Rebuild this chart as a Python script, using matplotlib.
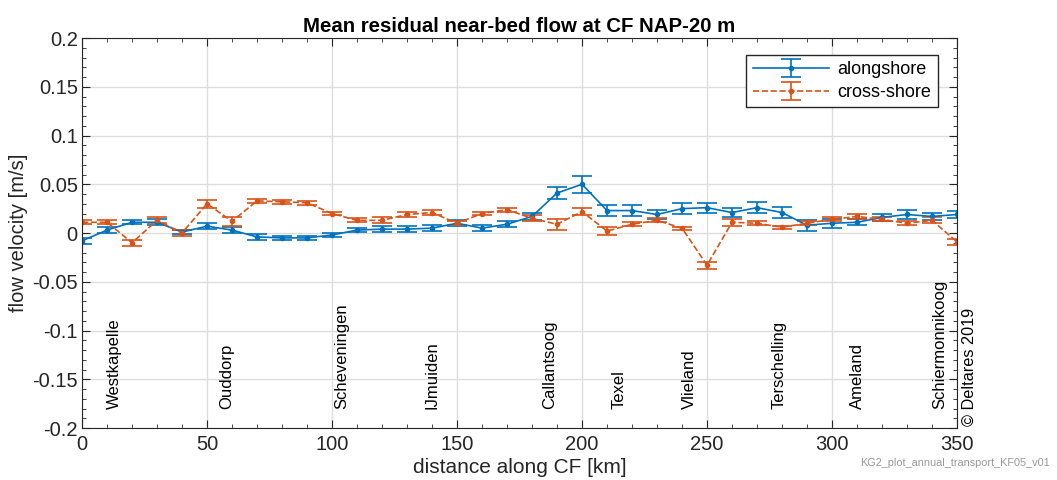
import matplotlib
matplotlib.use("Agg")
import matplotlib.pyplot as plt
from matplotlib.ticker import MultipleLocator

plt.rcParams['font.family'] = ['Liberation Sans', 'DejaVu Sans']

# distance along CF [km]
dist = [0, 10, 20, 30, 40, 50, 60, 70, 80, 90, 100, 110, 120, 130, 140, 150, 160, 170,
        180, 190, 200, 210, 220, 230, 240, 250, 260, 270, 280, 290, 300, 310, 320, 330, 340, 350]

along = [-0.008, 0.003, 0.011, 0.011, 0.001, 0.007, 0.003, -0.004, -0.005, -0.005,
         -0.002, 0.003, 0.004, 0.004, 0.005, 0.010, 0.005, 0.009, 0.017, 0.041,
         0.050, 0.023, 0.023, 0.019, 0.025, 0.026, 0.021, 0.026, 0.021, 0.008,
         0.010, 0.011, 0.016, 0.019, 0.017, 0.019]
along_err = [0.003, 0.003, 0.002, 0.003, 0.002, 0.003, 0.003, 0.003, 0.002, 0.002,
             0.002, 0.002, 0.003, 0.003, 0.003, 0.003, 0.003, 0.003, 0.004, 0.006,
             0.0085, 0.0055, 0.0055, 0.005, 0.0055, 0.005, 0.005, 0.0055, 0.006, 0.0055,
             0.0048, 0.003, 0.0035, 0.0043, 0.0034, 0.004]

cross = [0.011, 0.011, -0.010, 0.013, 0.000, 0.030, 0.012, 0.033, 0.032, 0.031,
         0.020, 0.013, 0.013, 0.019, 0.021, 0.010, 0.020, 0.024, 0.015, 0.009,
         0.022, 0.002, 0.009, 0.013, 0.005, -0.033, 0.011, 0.010, 0.006, 0.010,
         0.014, 0.017, 0.014, 0.010, 0.013, -0.009]
cross_err = [0.002, 0.002, 0.003, 0.003, 0.003, 0.0043, 0.0043, 0.002, 0.002, 0.002,
             0.002, 0.002, 0.003, 0.003, 0.003, 0.002, 0.002, 0.002, 0.003, 0.0056,
             0.004, 0.004, 0.002, 0.002, 0.0015, 0.0036, 0.0034, 0.002, 0.0015, 0.002,
             0.002, 0.003, 0.002, 0.002, 0.003, 0.003]

places = ['Westkapelle', 'Ouddorp', 'Scheveningen', 'IJmuiden', 'Callantsoog',
          'Texel', 'Vlieland', 'Terschelling', 'Ameland', 'Schiermonnikoog']
place_km = [13, 58, 104, 140, 187, 215, 243, 279, 310, 343]

blue = '#0072BD'
orange = '#D95319'

fig = plt.figure(figsize=(10.57, 4.8), dpi=100)
ax = fig.add_axes([0.0776, 0.1083, 0.8278, 0.8125])

ax.errorbar(dist, along, yerr=along_err, color=blue, lw=1.2, marker='.', ms=6,
            capsize=7, elinewidth=1.2, capthick=1.2, label='alongshore')
ax.errorbar(dist, cross, yerr=cross_err, color=orange, lw=1.2, ls='--', marker='.', ms=6,
            capsize=7, elinewidth=1.2, capthick=1.2, label='cross-shore')

for name, km in zip(places, place_km):
    ax.text(km, -0.181, name, rotation=90, ha='center', va='bottom', fontsize=12)
ax.text(355, -0.198, '\u00a9 Deltares 2019', rotation=90, ha='center', va='bottom',
        fontsize=11.7, clip_on=False)

ax.set_xlim(0, 350)
ax.set_ylim(-0.2, 0.2)
ax.xaxis.set_major_locator(MultipleLocator(50))
ax.xaxis.set_minor_locator(MultipleLocator(10))
ax.yaxis.set_minor_locator(MultipleLocator(0.01))
ax.set_yticks([-0.2, -0.15, -0.1, -0.05, 0, 0.05, 0.1, 0.15, 0.2])
ax.set_yticklabels(['-0.2', '-0.15', '-0.1', '-0.05', '0', '0.05', '0.1', '0.15', '0.2'])
ax.tick_params(which='both', direction='in', top=True, right=True, labelsize=14.5, colors='#262626')
ax.tick_params(axis='y', pad=3)
ax.tick_params(axis='x', pad=5)
ax.tick_params(which='major', length=6)
ax.tick_params(which='minor', length=3)
ax.grid(True, which='major', color='#DDDDDD', lw=1)
ax.set_axisbelow(True)
for s in ax.spines.values():
    s.set_color('#262626')

ax.set_xlabel('distance along CF [km]', fontsize=15, labelpad=3, color='#262626')
ax.set_ylabel('flow velocity [m/s]', fontsize=14.5, color='#262626')
ax.yaxis.set_label_coords(-0.0615, 0.5)
ax.set_title('Mean residual near-bed flow at CF NAP-20 m', fontsize=14.7, fontweight='bold', pad=4)

leg = ax.legend(loc='upper right', bbox_to_anchor=(0.978, 0.956), borderaxespad=0,
                fontsize=13, fancybox=False, edgecolor='#262626', framealpha=1,
                handlelength=4.2, handletextpad=0.5, borderpad=0.35, labelspacing=0.3)
leg.get_frame().set_linewidth(1)

fig.text(0.993, 0.035, 'KG2_plot_annual_transport_KF05_v01', ha='right', va='center',
         fontsize=7.8, color='#999999')

fig.savefig('out.png', dpi=100)
